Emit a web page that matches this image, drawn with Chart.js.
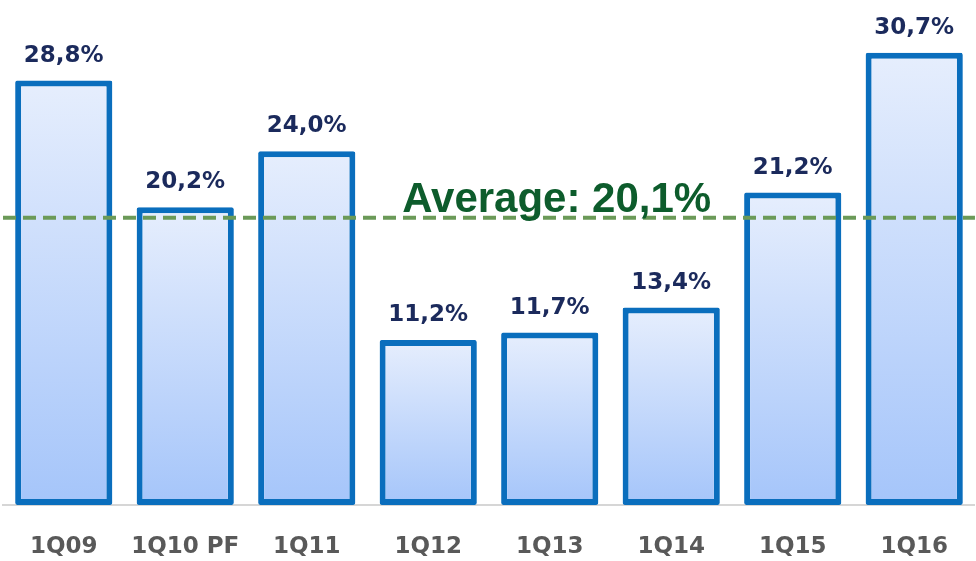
<!DOCTYPE html>
<html><head><meta charset="utf-8">
<script src="https://cdn.jsdelivr.net/npm/chart.js@4"></script>
<style>html,body{margin:0;padding:0;background:#fff}#wrap{width:976px;height:561px}</style>
</head><body><div id="wrap"><canvas id="c"></canvas></div>
<script>
const categories = ['1Q09','1Q10 PF','1Q11','1Q12','1Q13','1Q14','1Q15','1Q16'];
const values = [28.8, 20.2, 24.0, 11.2, 11.7, 13.4, 21.2, 30.7];
const valueLabels = ['28,8%','20,2%','24,0%','11,2%','11,7%','13,4%','21,2%','30,7%'];
const avgLabel = 'Average: 20,1%';
const avgLine = 19.5; // level where the dashed average line is drawn in the picture

function barGradient(ctx){
  const chart = ctx.chart;
  if (!chart.chartArea || ctx.type !== 'data') return '#cfe0fb';
  const y = chart.scales.y;
  const top = y.getPixelForValue(ctx.parsed.y);
  const bot = y.getPixelForValue(0);
  const g = chart.ctx.createLinearGradient(0, top, 0, bot);
  g.addColorStop(0, '#e6eefd');
  g.addColorStop(1, '#a5c5fa');
  return g;
}

const labelPlugin = {
  id: 'labels',
  afterDatasetsDraw(chart){
    const c = chart.ctx;
    const meta = chart.getDatasetMeta(0);
    c.save();
    c.font = 'bold 23px "DejaVu Sans", sans-serif';
    c.fillStyle = '#1b2a5c';
    c.textAlign = 'center';
    c.textBaseline = 'alphabetic';
    meta.data.forEach((bar, i) => {
      c.fillText(valueLabels[i], bar.x, bar.y - 19);
    });
    const y = chart.scales.y.getPixelForValue(avgLine);
    c.strokeStyle = '#6b9a58';
    c.lineWidth = 4;
    c.setLineDash([13, 7]);
    c.beginPath();
    c.moveTo(chart.chartArea.left, y);
    c.lineTo(chart.chartArea.right, y);
    c.stroke();
    c.setLineDash([]);
    c.font = 'bold 42px "Liberation Sans", Arial, sans-serif';
    c.fillStyle = '#0d5c2c';
    c.fillText(avgLabel, chart.scales.x.getPixelForValue(4) + 7, y - 6);
    c.restore();
  }
};

new Chart(document.getElementById('c'), {
  type: 'bar',
  data: {
    labels: categories,
    datasets: [{
      data: values,
      backgroundColor: barGradient,
      borderColor: '#0a6ebd',
      borderWidth: 6,
      borderSkipped: false,
      borderRadius: 2,
      barPercentage: 0.8,
      categoryPercentage: 1
    }]
  },
  options: {
    responsive: true,
    maintainAspectRatio: false,
    animation: false,
    layout: { padding: { left: 3, right: 0, top: 4, bottom: 0 } },
    plugins: { legend: { display: false }, tooltip: { enabled: false } },
    scales: {
      x: {
        afterFit(scale){ scale.height = 56; },
        grid: { display: false, drawTicks: false },
        border: { display: true, color: '#d6d6d6', width: 2 },
        ticks: {
          color: '#595959',
          padding: 28,
          font: { family: '"DejaVu Sans", sans-serif', size: 23, weight: 'bold' }
        }
      },
      y: { display: false, min: 0, max: 34 }
    }
  },
  plugins: [labelPlugin]
});
</script>
</body></html>
